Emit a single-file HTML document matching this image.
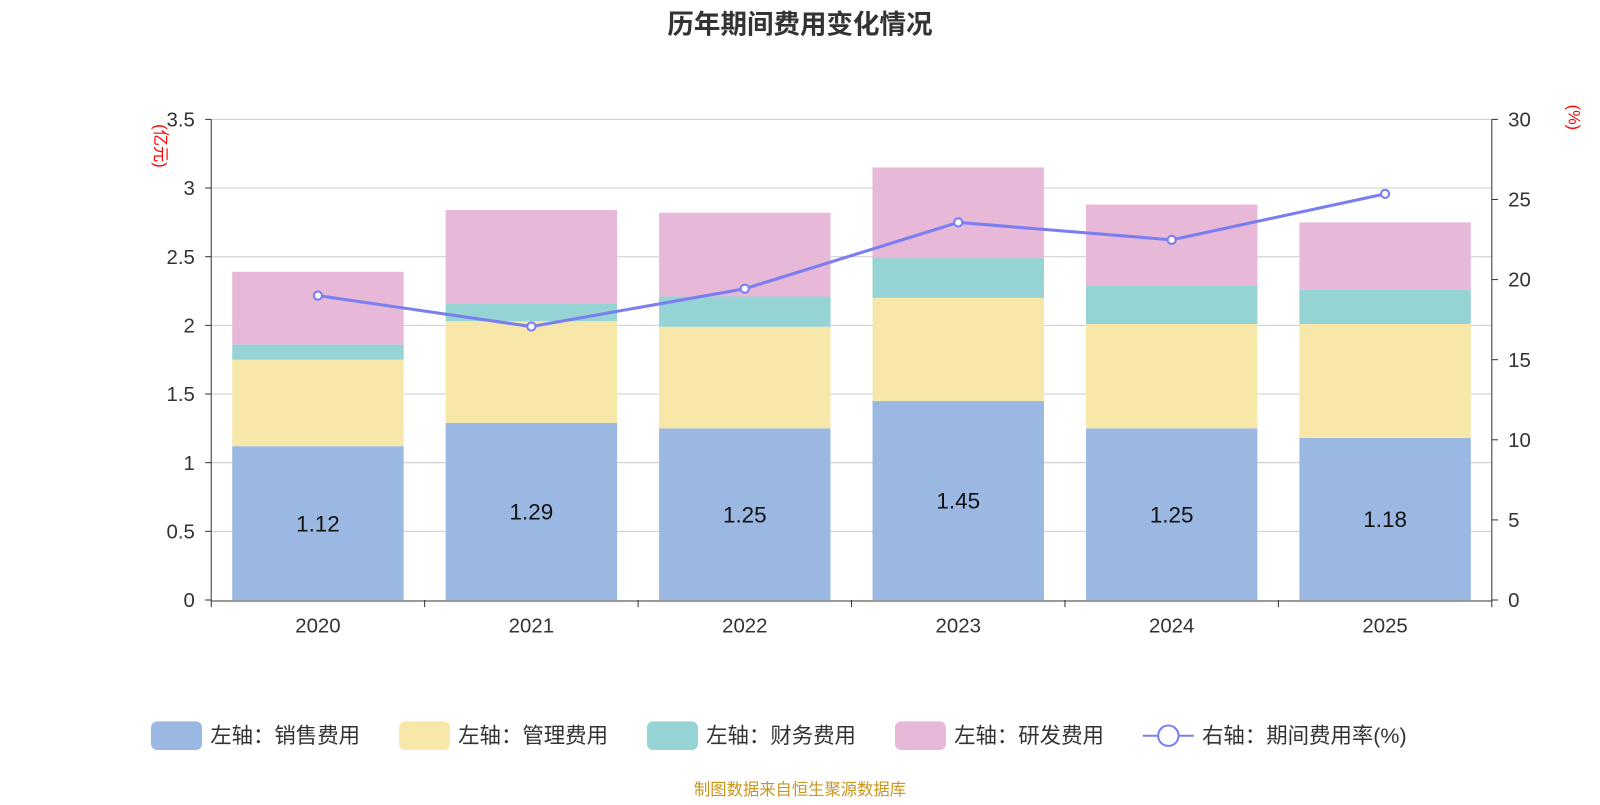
<!DOCTYPE html>
<html><head><meta charset="utf-8">
<style>
body{margin:0;background:#fff;font-family:"Liberation Sans","Noto Sans CJK SC",sans-serif;}
svg text{font-family:"Liberation Sans","Noto Sans CJK SC",sans-serif;}
</style></head>
<body>
<svg id="chart" width="1600" height="800" xmlns="http://www.w3.org/2000/svg">
<g transform="scale(1.0204)">
<text x="784" y="33" text-anchor="middle" font-size="26" font-weight="bold" fill="#333">历年期间费用变化情况</text>
<text transform="translate(152,143) rotate(90)" text-anchor="middle" font-size="16" fill="red">(亿元)</text>
<text transform="translate(1537,115) rotate(90)" text-anchor="middle" font-size="16" fill="red">(%)</text>
<g id="grid"></g><g id="bars"></g><g id="axes"></g><g id="line"></g>
<g id="legend"></g>
<text x="784" y="779" text-anchor="middle" font-size="16" fill="#c8961e">制图数据来自恒生聚源数据库</text>
</g>
</svg>
<script>
const categories=["2020","2021","2022","2023","2024","2025"];
const salesExp=[1.12,1.29,1.25,1.45,1.25,1.18];
const adminExp=[0.63,0.74,0.74,0.75,0.76,0.83];
const finExp=[0.11,0.13,0.22,0.29,0.28,0.25];
const rdExp=[0.53,0.68,0.61,0.66,0.59,0.49];
const ratio=[19.0,17.07,19.43,23.57,22.48,25.35];
const leftTicks=[0,0.5,1,1.5,2,2.5,3,3.5];
const rightTicks=[0,5,10,15,20,25,30];
const X0=207,X1=1462,Y0=588,Y1=117;
const yL=v=>Y0-(v/3.5)*(Y0-Y1);
const yR=v=>Y0-(v/30)*(Y0-Y1);
const bw=(X1-X0)/categories.length;
const xC=i=>X0+bw*(i+0.5);
const NS="http://www.w3.org/2000/svg";
function mk(tag,attrs,parent,txt){const e=document.createElementNS(NS,tag);for(const k in attrs)e.setAttribute(k,attrs[k]);if(txt!==undefined)e.textContent=txt;document.getElementById(parent).appendChild(e);return e;}
leftTicks.forEach((t,i)=>{
 if(i>0){const g=mk('line',{x1:X0,x2:X1,y1:yL(t),y2:yL(t),stroke:'#ccc','stroke-width':1},'grid');
 
 }
 const tx=mk('text',{x:X0-16,y:yL(t)+7,'text-anchor':'end','font-size':20,fill:'#333'},'axes',String(t));
 
 
 mk('line',{x1:X0-6,x2:X0,y1:yL(t),y2:yL(t),stroke:'#333'},'axes');
});
rightTicks.forEach(t=>{
 const tx=mk('text',{x:X1+16,y:yR(t)+7,'text-anchor':'start','font-size':20,fill:'#333'},'axes',String(t));
 
 
 mk('line',{x1:X1,x2:X1+6,y1:yR(t),y2:yR(t),stroke:'#333'},'axes');
});
mk('line',{x1:X0,x2:X0,y1:Y1,y2:Y0,stroke:'#333'},'axes');
mk('line',{x1:X1,x2:X1,y1:Y1,y2:Y0,stroke:'#333'},'axes');
mk('line',{x1:X0,x2:X1,y1:Y0+1,y2:Y0+1,stroke:'#333'},'axes');
for(let i=0;i<=categories.length;i++)mk('line',{x1:X0+bw*i,x2:X0+bw*i,y1:Y0,y2:Y0+7,stroke:'#333'},'axes');
const series=[[salesExp,'#9bb8e2','sales'],[adminExp,'#f7e7a8','admin'],[finExp,'#96d3d4','finance'],[rdExp,'#e7b8d8','rd']];
categories.forEach((c,i)=>{
 let base=0;
 series.forEach(s=>{
  const v=s[0][i];
  const r=mk('rect',{x:xC(i)-84,width:168,y:yL(base+v),height:yL(base)-yL(base+v),fill:s[1]},'bars');
  
  
  base+=v;
 });
 const lb=mk('text',{x:xC(i),y:(yL(0)+yL(salesExp[i]))/2+8,'text-anchor':'middle','font-size':22,fill:'#111'},'bars',salesExp[i].toFixed(2));
 
 
 const xl=mk('text',{x:xC(i),y:620,'text-anchor':'middle','font-size':20,fill:'#333'},'axes',c);
 
 
});
const pl=mk('polyline',{points:ratio.map((v,i)=>xC(i)+','+yR(v)).join(' '),fill:'none',stroke:'#7a7ef0','stroke-width':3},'line');


ratio.forEach((v,i)=>{
 const p=mk('circle',{cx:xC(i),cy:yR(v),r:4,fill:'#fff',stroke:'#7a7ef0','stroke-width':2},'line');
 
 
});
const leg=[['左轴：销售费用','#9bb8e2',148],['左轴：管理费用','#f7e7a8',391],['左轴：财务费用','#96d3d4',634],['左轴：研发费用','#e7b8d8',877]];
leg.forEach(l=>{
 const r=mk('rect',{x:l[2],y:707,width:50,height:28,rx:6,fill:l[1]},'legend');
 
 
 const t=mk('text',{x:l[2]+58,y:728,'font-size':21,fill:'#333'},'legend',l[0]);
 
 
});
mk('line',{x1:1120,x2:1170,y1:721,y2:721,stroke:'#7a7ef0','stroke-width':2},'legend');
const lc=mk('circle',{cx:1145,cy:721,r:10,fill:'#fff',stroke:'#7a7ef0','stroke-width':2},'legend');


const lt=mk('text',{x:1178,y:728,'font-size':21,fill:'#333'},'legend','右轴：期间费用率(%)');


</script>
</body></html>
